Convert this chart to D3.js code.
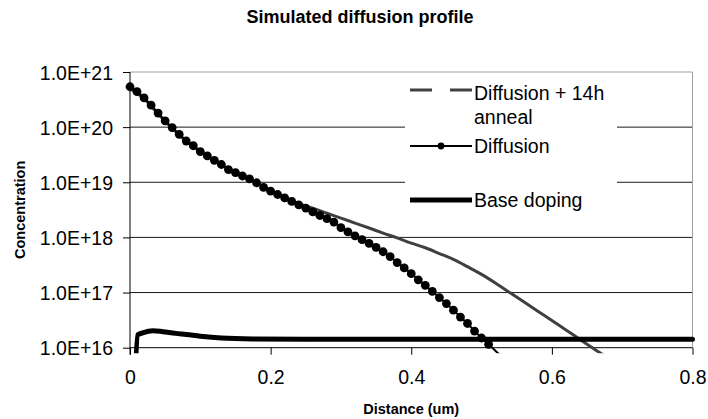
<!DOCTYPE html>
<html>
<head>
<meta charset="utf-8">
<script src="https://cdn.jsdelivr.net/npm/d3@7"></script>
<style>
  html, body { margin: 0; padding: 0; background: #fff; }
  svg { display: block; font-family: "Liberation Sans", Arial, sans-serif; }
</style>
</head>
<body>
<svg id="chart" width="708" height="419"></svg>
<script>
// Diffusion profile, sampled every 0.01 um (cm^-3)
const diffusionDepth = d3.range(0, 54).map(k => +(k * 0.01).toFixed(2));
const diffusionConc = [
  5.4e20, 4.4e20, 3.4e20, 2.5e20, 1.8e20, 1.3e20, 9.8e19, 7.4e19, 5.6e19, 4.6e19,
  3.6e19, 3.0e19, 2.5e19, 2.1e19, 1.7e19, 1.5e19, 1.3e19, 1.15e19, 9.8e18, 8.1e18,
  6.9e18, 6.0e18, 5.2e18, 4.5e18, 3.9e18, 3.4e18, 2.9e18, 2.5e18, 2.2e18, 1.9e18,
  1.5e18, 1.26e18, 1.07e18, 9.1e17, 7.8e17, 6.6e17, 5.5e17, 4.5e17, 3.5e17, 2.8e17,
  2.2e17, 1.7e17, 1.35e17, 1.05e17, 8.1e16, 6.3e16, 4.8e16, 3.6e16, 2.75e16, 2.0e16,
  1.5e16, 1.15e16, 8.7e15, 6.6e15
];

// Profile after the 14 h anneal, sampled every 0.02 um
const annealDepth = d3.range(0, 35).map(k => +(k * 0.02).toFixed(2));
const annealConc = [
  5.0e20, 3.3e20, 1.74e20, 9.5e19, 5.6e19, 3.6e19, 2.5e19, 1.74e19, 1.3e19, 9.8e18,
  7.1e18, 5.4e18, 4.1e18, 3.4e18, 2.75e18, 2.24e18, 1.82e18, 1.48e18, 1.2e18, 9.8e17,
  7.9e17, 6.5e17, 5.1e17, 4.0e17, 2.95e17, 2.14e17, 1.48e17, 1.0e17, 6.8e16, 4.6e16,
  3.1e16, 2.1e16, 1.41e16, 9.5e15, 6.5e15
];

// Substrate (base) doping
const baseDepth = [0.006, 0.011, 0.018, 0.033, 0.047, 0.065, 0.08, 0.10, 0.13, 0.175, 0.25, 0.4, 0.5, 0.6, 0.7, 0.8];
const baseConc  = [1.0e15, 1.7e16, 1.86e16, 2.04e16, 1.95e16, 1.82e16, 1.74e16, 1.62e16, 1.5e16, 1.44e16, 1.42e16, 1.42e16, 1.42e16, 1.42e16, 1.42e16, 1.42e16];

const xTicks = [0, 0.2, 0.4, 0.6, 0.8];
const yTicks = [1e16, 1e17, 1e18, 1e19, 1e20, 1e21];
const legendLabels = [["Diffusion + 14h", "anneal"], ["Diffusion"], ["Base doping"]];

const svg = d3.select("#chart");
const pLeft = 130, pRight = 692.5, pTop = 72, pBottom = 347.7;

const x = d3.scaleLinear().domain([0, 0.8]).range([pLeft, pRight]);
const y = d3.scaleLog().domain([1e16, 1e21]).range([pBottom, pTop]);
const fmtExp = v => "1.0E+" + Math.round(Math.log10(v));

// Title
svg.append("text")
  .attr("x", 360).attr("y", 23)
  .attr("text-anchor", "middle")
  .attr("font-weight", "bold").attr("font-size", 18)
  .text("Simulated diffusion profile");

// Horizontal gridlines
svg.append("g").selectAll("line")
  .data(yTicks.filter(v => v > 1e16 && v < 1e21))
  .join("line")
  .attr("x1", pLeft).attr("x2", pRight)
  .attr("y1", d => y(d)).attr("y2", d => y(d))
  .attr("stroke", "#1a1a1a").attr("stroke-width", 1);

// Plot-area frame (top and right)
svg.append("path")
  .attr("d", `M${pLeft},${pTop}H${pRight}V${pBottom}`)
  .attr("fill", "none").attr("stroke", "#a0a0a0").attr("stroke-width", 1);

// Axes
const yAxis = d3.axisLeft(y).tickValues(yTicks).tickFormat(fmtExp).tickSize(7).tickPadding(10);
const gy = svg.append("g").attr("transform", `translate(${pLeft},0)`).call(yAxis);
gy.select(".domain").remove();
gy.append("line").attr("x1", 0).attr("x2", 0).attr("y1", pTop).attr("y2", pBottom + 7).attr("stroke", "#000");
gy.selectAll(".tick line").attr("stroke", "#000");
gy.selectAll(".tick text")
  .attr("font-size", 19.5).attr("fill", "#000")
  .attr("font-family", "Liberation Sans, Arial, sans-serif")
  .attr("dy", "0.36em");

const xAxis = d3.axisBottom(x).tickValues(xTicks).tickFormat(d => d === 0 ? "0" : d3.format(".1f")(d)).tickSize(7).tickPadding(15);
const gx = svg.append("g").attr("transform", `translate(0,${pBottom})`).call(xAxis);
gx.select(".domain").remove();
gx.append("line").attr("x1", pLeft).attr("x2", pRight).attr("y1", 0).attr("y2", 0).attr("stroke", "#000");
gx.selectAll(".tick line").attr("stroke", "#000");
gx.selectAll(".tick text")
  .attr("font-size", 19.5).attr("fill", "#000")
  .attr("font-family", "Liberation Sans, Arial, sans-serif");

// Axis titles
svg.append("text")
  .attr("x", (pLeft + pRight) / 2).attr("y", 414)
  .attr("text-anchor", "middle").attr("font-weight", "bold").attr("font-size", 14.5)
  .text("Distance (um)");
svg.append("text")
  .attr("transform", `translate(25,${(pTop + pBottom) / 2}) rotate(-90)`)
  .attr("text-anchor", "middle").attr("font-weight", "bold").attr("font-size", 14.5)
  .text("Concentration");

// Series, clipped just outside the plotting region
svg.append("clipPath").attr("id", "plotClip")
  .append("rect").attr("x", pLeft - 6).attr("y", pTop - 10).attr("width", pRight - pLeft + 12).attr("height", pBottom - pTop + 15.5);

const plot = svg.append("g").attr("clip-path", "url(#plotClip)");
const line = d3.line().x(d => x(d[0])).y(d => y(d[1]));
const smoothLine = d3.line().x(d => x(d[0])).y(d => y(d[1])).curve(d3.curveMonotoneX);

const annealPts = annealDepth.map((d, i) => [d, annealConc[i]]);
const diffPts = diffusionDepth.map((d, i) => [d, diffusionConc[i]]);
const basePts = baseDepth.map((d, i) => [d, baseConc[i]]);

plot.append("path").datum(annealPts)
  .attr("d", smoothLine).attr("fill", "none")
  .attr("stroke", "#404040").attr("stroke-width", 3);

plot.append("path").datum(diffPts)
  .attr("d", line).attr("fill", "none")
  .attr("stroke", "#000").attr("stroke-width", 2);
plot.append("g").selectAll("circle")
  .data(diffPts.filter(p => p[1] >= 1e16))
  .join("circle")
  .attr("cx", d => x(d[0])).attr("cy", d => y(d[1])).attr("r", 4.4)
  .attr("fill", "#000");

plot.append("path").datum(basePts)
  .attr("d", smoothLine).attr("fill", "none")
  .attr("stroke", "#000").attr("stroke-width", 5)
  .attr("stroke-linejoin", "round").attr("stroke-linecap", "round");

// Legend
const lg = svg.append("g");
lg.append("rect").attr("x", 405).attr("y", 76).attr("width", 212).attr("height", 146).attr("fill", "#fff");
const sx0 = 410, sx1 = 472, tx = 474;
lg.append("line").attr("x1", sx0).attr("x2", sx1).attr("y1", 90).attr("y2", 90)
  .attr("stroke", "#404040").attr("stroke-width", 3).attr("stroke-dasharray", "22,18");
lg.append("line").attr("x1", sx0).attr("x2", sx1).attr("y1", 146).attr("y2", 146)
  .attr("stroke", "#000").attr("stroke-width", 2);
lg.append("circle").attr("cx", (sx0 + sx1) / 2).attr("cy", 146).attr("r", 3.4).attr("fill", "#000");
lg.append("line").attr("x1", sx0).attr("x2", sx1).attr("y1", 200).attr("y2", 200)
  .attr("stroke", "#000").attr("stroke-width", 5);

const legendBaselines = [[100, 124], [153], [207]];
legendLabels.forEach((lines, i) => {
  lines.forEach((t, j) => {
    lg.append("text").attr("x", tx).attr("y", legendBaselines[i][j])
      .attr("font-size", 19.5).text(t);
  });
});
</script>
</body>
</html>
